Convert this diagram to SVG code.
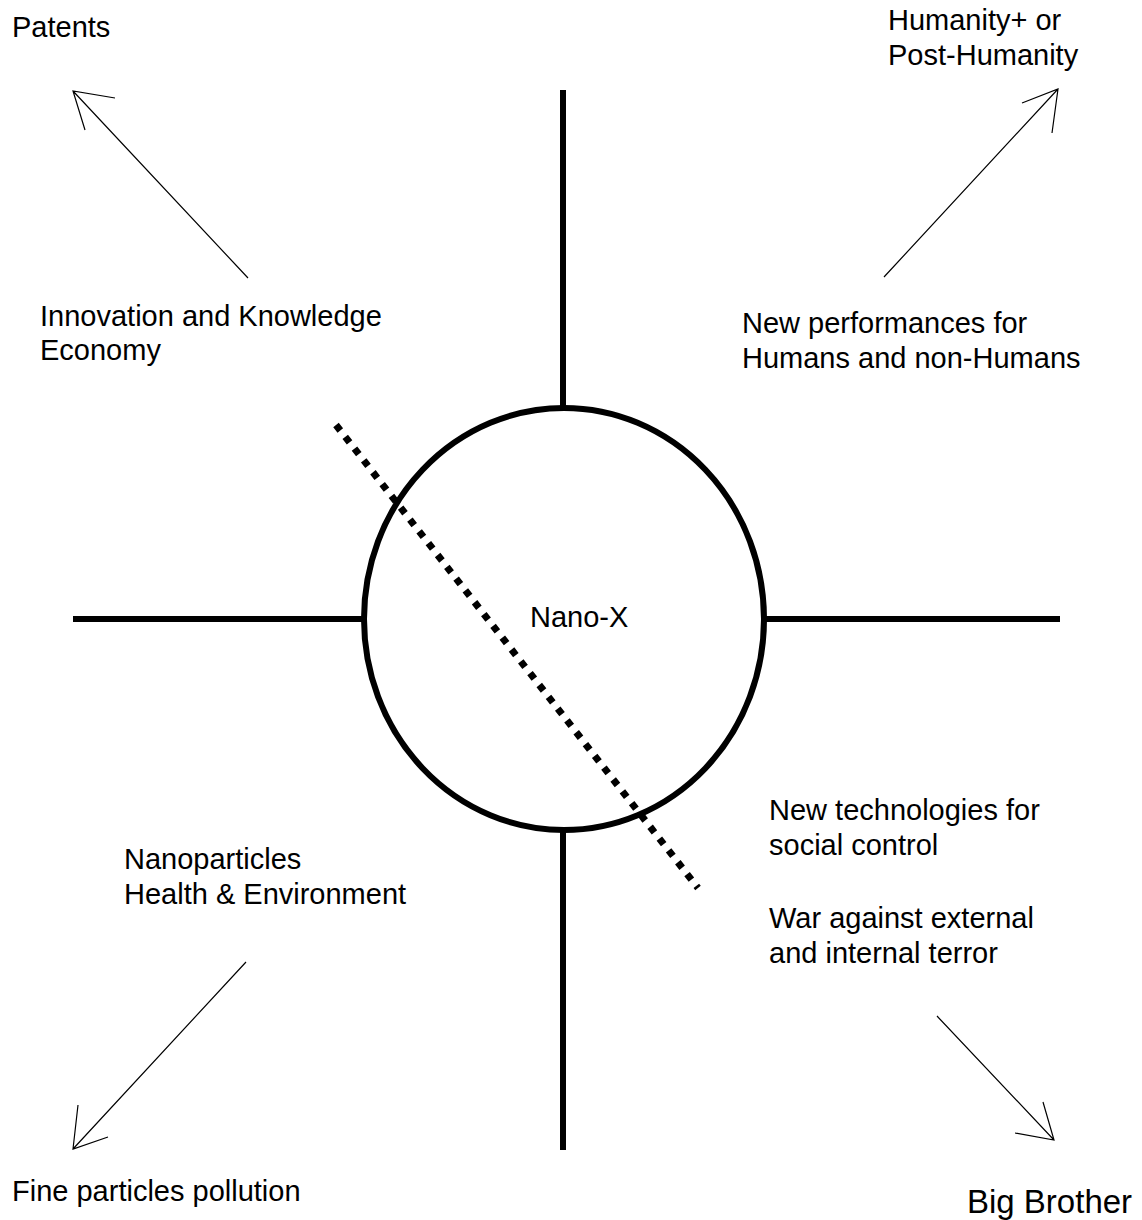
<svg xmlns="http://www.w3.org/2000/svg" width="1142" height="1220" viewBox="0 0 1142 1220">
<style>
.t{font-family:"Liberation Sans",Arial,sans-serif;font-size:29px;fill:#000}
.axis{stroke:#000;stroke-width:6;fill:none}
.arr{stroke:#000;stroke-width:1.2;fill:none}
</style>
<rect width="1142" height="1220" fill="#fff"/>
<g id="connectors">
<line class="axis" x1="563" y1="90" x2="563" y2="408"/>
<line class="axis" x1="563" y1="830" x2="563" y2="1150"/>
<line class="axis" x1="73" y1="619" x2="364" y2="619"/>
<line class="axis" x1="764" y1="619" x2="1060" y2="619"/>
<line stroke="#000" stroke-width="7" stroke-dasharray="7 8" x1="336" y1="425" x2="698" y2="888"/>
<path class="arr" d="M248 278L73 91M115 98L73 91L85 130"/>
<path class="arr" d="M884 277L1058 89M1022 103L1058 89L1052 133"/>
<path class="arr" d="M246 962L73 1149M78 1105L73 1149L108 1137"/>
<path class="arr" d="M937 1016L1054 1140M1043 1102L1054 1140L1015 1133"/>
</g>
<g id="center">
<ellipse class="axis" cx="564" cy="619" rx="200" ry="211"/>
<text class="t" x="530" y="627">Nano-X</text>
</g>
<g id="patents"><text class="t" x="12" y="37">Patents</text></g>
<g id="humanity"><text class="t" x="888" y="30">Humanity+ or</text><text class="t" x="888" y="65">Post-Humanity</text></g>
<g id="innovation"><text class="t" x="40" y="326">Innovation and Knowledge</text><text class="t" x="40" y="360">Economy</text></g>
<g id="performances"><text class="t" x="742" y="333">New performances for</text><text class="t" x="742" y="368">Humans and non-Humans</text></g>
<g id="nanoparticles"><text class="t" x="124" y="869">Nanoparticles</text><text class="t" x="124" y="904">Health &amp; Environment</text></g>
<g id="social"><text class="t" x="769" y="820">New technologies for</text><text class="t" x="769" y="855">social control</text><text class="t" x="769" y="928">War against external</text><text class="t" x="769" y="963">and internal terror</text></g>
<g id="pollution"><text class="t" x="12" y="1201">Fine particles pollution</text></g>
<g id="bigbrother"><text class="t" x="967" y="1213" style="font-size:33px">Big Brother</text></g>
</svg>
